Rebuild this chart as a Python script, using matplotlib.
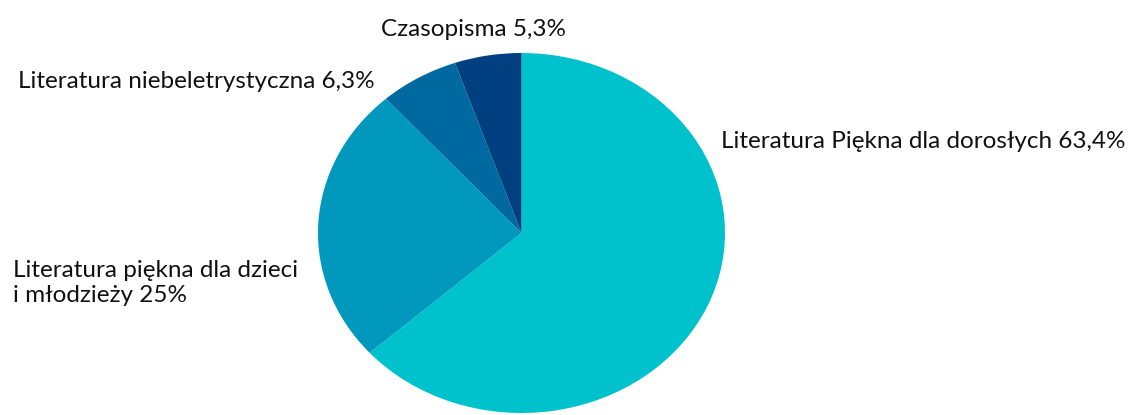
import matplotlib.pyplot as plt

categories = ["Literatura Piękna dla dorosłych", "Literatura piękna dla dzieci\ni młodzieży",
              "Literatura niebeletrystyczna", "Czasopisma"]
values = [63.4, 25.0, 6.3, 5.3]
value_labels = ["63,4%", "25%", "6,3%", "5,3%"]
colors = ["#00c2cc", "#0098bc", "#006aa0", "#003f80"]

plt.rcParams['font.family'] = ['Lato', 'DejaVu Sans']

W, H = 1132, 415
fig = plt.figure(figsize=(W / 100, H / 100), dpi=100)

# pie is slightly stretched horizontally in the original
left, right, top, bottom = 318, 725, 53, 413
ax = fig.add_axes([left / W, 1 - bottom / H, (right - left) / W, (bottom - top) / H])
ax.pie(values, colors=colors, startangle=90, counterclock=False, radius=1,
       wedgeprops=dict(linewidth=0))
ax.set_aspect('auto')
ax.set_xlim(-1, 1)
ax.set_ylim(-1, 1)
ax.axis('off')

# label positions in pixels (x, y center)
label_pos = [(721, 141), (13, 283), (18, 82), (381, 30)]
for cat, lab, (x, y) in zip(categories, value_labels, label_pos):
    fig.text(x / W, 1 - y / H, f"{cat} {lab}", ha='left', va='center', fontsize=17.5,
             color='#111111', linespacing=1.25)

fig.savefig("out.png", dpi=100)
